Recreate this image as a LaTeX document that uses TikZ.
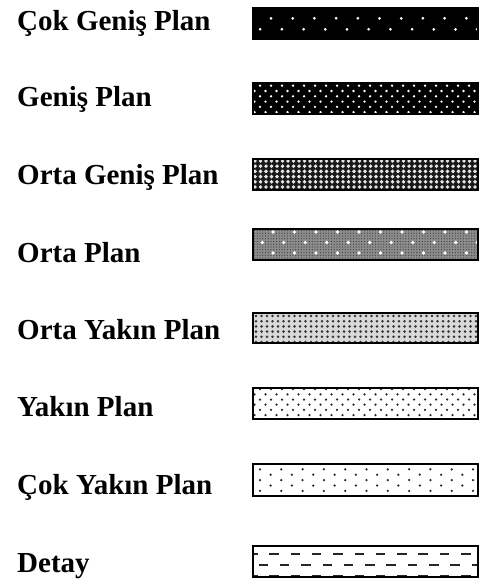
\documentclass[tikz,border=0pt]{standalone}
\usepackage{fontspec}
\setmainfont{Liberation Serif}
\usepackage{tikz}

% dotted bar: top, x0, y0, dx, dy, stagger(0/1), radius, dot colour
\newcommand{\dotbar}[8]{%
  \begin{scope}
    \clip (253,#1) rectangle (478,#1+31);
    \pgfmathsetmacro\ylim{#1+33}
    \foreach \r in {-1,...,12}
    {
      \foreach \c in {-1,...,84}
      {
        \pgfmathsetmacro\px{253+#2+\c*#4+#6*mod(\r+2,2)*#4/2}
        \pgfmathsetmacro\py{#1+#3+\r*#5}
        \ifdim\px pt<481pt \ifdim\py pt<\ylim pt \fill[#8] (\px,\py) circle (#7); \fi\fi
      }
    }
  \end{scope}}

\begin{document}
\begin{tikzpicture}[x=1pt, y=-1pt,
    lbl/.style={anchor=base west, inner sep=0pt, font=\fontsize{29}{34}\selectfont\bfseries},
    barframe/.style={draw=black, line width=1.6pt}]

\useasboundingbox (0,0) rectangle (482,586);

% labels
\node[lbl] (cgp) at (17,31)  {Çok Geniş Plan};
\node[lbl] (gp)  at (17,106) {Geniş Plan};
\node[lbl] (ogp) at (17,184) {Orta Geniş Plan};
\node[lbl] (op)  at (17,262) {Orta Plan};
\node[lbl] (oyp) at (17,339) {Orta Yakın Plan};
\node[lbl] (yp)  at (17,416) {Yakın Plan};
\node[lbl] (cyp) at (17,494) {Çok Yakın Plan};
\node[lbl] (dt)  at (17,572) {Detay};

% Cok Genis Plan
\fill[black] (253,8) rectangle (478,39);
\dotbar{8}{18}{10.3}{21.7}{11}{1}{1.5pt}{white}
\draw[barframe] (253,8) rectangle (478,39);

% Genis Plan
\fill[black] (253,83) rectangle (478,114);
\dotbar{83}{7}{2.7}{11}{5.3}{1}{1.3pt}{white}
\draw[barframe] (253,83) rectangle (478,114);

% Orta Genis Plan
\fill[black!90] (253,159) rectangle (478,190);
\dotbar{159}{2}{2}{5.5}{5.2}{0}{1.95pt}{white!90!black}
\draw[barframe] (253,159) rectangle (478,190);

% Orta Plan
\fill[black!45] (253,229) rectangle (478,260);
\dotbar{229}{1.5}{1.5}{2.75}{2.75}{0}{0.6pt}{black!75}
\dotbar{229}{20}{3}{21.5}{10.5}{1}{1.9pt}{white}
\draw[barframe] (253,229) rectangle (478,260);

% Orta Yakin Plan
\fill[black!15] (253,313) rectangle (478,343);
\dotbar{313}{3}{3}{5.5}{5.2}{0}{1.4pt}{black!80}
\draw[barframe] (253,313) rectangle (478,343);

% Yakin Plan
\dotbar{388}{7}{1.1}{11}{5.2}{1}{1.25pt}{black!85}
\draw[barframe] (253,388) rectangle (478,419);

% Cok Yakin Plan
\dotbar{464}{7}{5.3}{21.3}{5.4}{1}{1.25pt}{black!85}
\draw[barframe] (253,464) rectangle (478,496);

% Detay
\begin{scope}
  \clip (253,546) rectangle (478,577);
  \foreach \r in {0,1,2}
  {
    \foreach \c in {-1,...,11}
    {
      \pgfmathsetmacro\px{253+16.3+\c*21.3-mod(\r,2)*10.65}
      \pgfmathsetmacro\py{546+8+\r*11}
      \draw[line width=2.2pt, black!85] (\px,\py) -- ++(9.5,0);
    }
  }
\end{scope}
\draw[barframe] (253,546) rectangle (478,577);

\end{tikzpicture}
\end{document}
